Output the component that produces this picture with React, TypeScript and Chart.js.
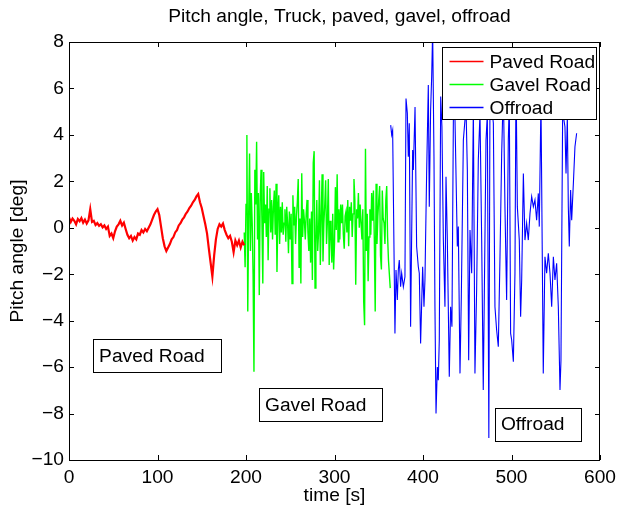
import React, { useEffect, useRef } from "react";
import { Chart, registerables } from "chart.js";

Chart.register(...registerables);

const FONT_FAMILY = "'Liberation Sans', Arial, Helvetica, sans-serif";
const FONT_SIZE = 19.2;

const chartTitle = "Pitch angle, Truck, paved, gavel, offroad";
const xTitle = "time [s]";
const yTitle = "Pitch angle [deg]";

const seriesLabels = ["Paved Road", "Gavel Road", "Offroad"];
const seriesColors = ["#ff0000", "#00ff00", "#0000ff"];

const xTicks = [0, 100, 200, 300, 400, 500, 600];
const yTicks = [-10, -8, -6, -4, -2, 0, 2, 4, 6, 8];

// Paved road: sampled every 2 s starting at 0 s
const pavedStart = 0;
const pavedStep = 2;
const pavedValues = [
  0.45, 0.25, 0.4, 0.3, 0.15, 0.38, 0.28, 0.42, 0.22, 0.35,
  0.18, 0.32, 0.8, 0.25, 0.3, 0.12, 0.2, 0.08, 0.15, 0.02,
  0.1, -0.05, 0.05, -0.35, -0.25, -0.45, -0.15, 0.05, 0.15, 0.3,
  0.1, 0.22, -0.05, -0.3, -0.45, -0.35, -0.55, -0.4, -0.5, -0.25,
  -0.3, -0.1, -0.2, -0.05, -0.15, 0.0, 0.15, 0.35, 0.55, 0.7,
  0.8, 0.55, 0.05, -0.45, -0.8, -1.0, -0.85, -0.7, -0.5, -0.4,
  -0.2, -0.1, 0.1, 0.2, 0.35, 0.45, 0.6, 0.7, 0.85, 0.95,
  1.1, 1.2, 1.35, 1.45, 1.1, 0.85, 0.5, 0.15, -0.25, -0.9,
  -1.5, -2.1, -1.2, -0.5, -0.05, 0.15, 0.05, 0.18, -0.1, -0.3,
  -0.45, -0.35, -0.6, -1.05, -0.55, -0.75, -0.55, -0.85, -0.6, -0.75,
];

// Gravel road: sampled every 1 s starting at 198 s
const gavelStart = 198;
const gavelStep = 1;
const gavelValues = [
  -0.2, -1.7, 1.0, 4.0, -3.6, 0.5, 3.2, -1.0, 1.5, 0.2,
  -2.0, -6.2, 2.5, 1.0, 3.7, -0.5, 1.5, -2.9, 1.2, 2.5,
  0.3, -2.4, 2.4, 0.2, 1.0, -0.4, 1.8, -1.4, 0.8, 1.7,
  -0.2, 1.2, -0.5, 0.9, 1.6, -0.3, 1.9, -1.9, 0.6, 1.4,
  -0.7, 0.9, -0.2, 1.1, -0.3, 0.2, 0.8, -0.6, 0.9, 0.2,
  -1.1, 0.7, -0.5, 0.6, -2.4, 1.4, 0.1, 0.9, -0.7, 0.5,
  1.1, 2.1, -1.7, 0.4, -2.4, 2.35, -0.4, 0.8, 0.3, -0.5,
  0.6, 1.2, -0.2, -1.0, 0.4, -1.5, 0.7, -2.25, 2.8, 3.3,
  -2.6, -0.7, 1.2, -1.0, -0.2, 2.05, -1.6, 0.5, 2.3, -1.45,
  0.2, 1.0, 2.05, -0.7, 0.3, 2.1, -1.6, 0.3, -0.3, -1.5,
  0.6, -1.8, -0.7, 1.75, -0.1, 2.3, -0.6, 0.8, -0.5, 1.0,
  0.2, 1.0, -0.3, -0.9, 0.5, 0.7, -0.2, 1.2, -0.8, 0.9,
  0.3, 1.1, -0.4, 0.6, 2.1, 1.2, -2.45, 0.8, 0.4, 1.5,
  0.0, 1.0, 0.2, -0.5, 0.8, -3.2, -4.2, 3.4, -1.0, 0.6,
  -2.3, -0.4, 0.8, -0.3, 1.5, 0.3, 1.6, -0.5, -3.6, 1.9,
  -0.7, 0.5, 1.2, 1.8, -1.2, -1.8, 1.6, 0.4, 0.2, -0.7,
  1.2, 1.8, -0.4, -1.4, -2.0, -2.6,
];

// Offroad: irregular time stamps (s) and values (deg)
const offroadTimes = [
  363.5, 364.6, 365.7, 368.3, 369.5, 371.0, 372.1, 373.2, 374.7, 375.9,
  377.8, 379.6, 380.8, 382.3, 383.4, 384.5, 386.0, 388.3, 389.1, 391.0,
  392.8, 394.7, 395.8, 397.3, 399.6, 401.1, 402.2, 404.1, 406.0, 407.1,
  408.6, 409.8, 410.9, 412.4, 413.5, 414.7, 416.2, 417.3, 418.4, 420.0,
  421.4, 423.0, 424.8, 426.0, 427.5, 429.7, 431.2, 432.7, 434.3, 436.1,
  438.8, 439.9, 441.8, 443.3, 445.6, 448.6, 450.1, 451.6, 453.1, 455.0,
  456.9, 458.7, 460.6, 462.5, 464.4, 466.3, 468.1, 471.2, 472.7, 474.4,
  475.7, 479.5, 481.3, 483.2, 485.1, 487.0, 488.9, 490.8, 492.6, 494.5,
  496.4, 497.5, 499.0, 500.2, 502.1, 503.9, 505.1, 506.6, 508.8, 510.3,
  511.5, 513.4, 515.2, 517.1, 519.0, 520.9, 522.8, 524.7, 526.5, 528.4,
  530.3, 531.4, 533.3, 535.9, 537.8, 539.7, 541.6, 543.5, 545.4, 547.3,
  549.1, 551.0, 552.9, 554.8, 555.9, 557.8, 560.4, 561.6, 563.1, 564.2,
  565.3, 566.8, 568.0, 569.9, 571.7, 573.6,
];
const offroadValues = [
  4.42, 4.0, 4.2, -4.55, -1.82, -3.11, -1.82, -1.39, -2.54, -1.96,
  -2.54, -2.11, 5.57, 4.93, 3.06, 4.5, -4.26, 3.35, 2.49, 5.2,
  -0.81, -1.68, -1.96, -4.98, -1.68, -3.4, -2.25, 2.34, 6.15, 0.91,
  5.07, 6.5, 8.5, 3.06, -3.4, -8.0, -6.0, -6.56, -4.83, 5.65,
  4.35, -0.53, -3.4, 2.2, -0.53, -6.41, -3.4, -4.26, 4.64, 4.78,
  -0.81, 0.05, -6.27, -2.97, 3.78, 5.2, 2.49, -5.7, -0.1, -1.96,
  5.2, -6.27, -2.68, 2.92, 4.93, -0.53, -6.99, 3.78, 4.9, -9.05,
  6.0, 4.5, -3.4, -4.4, -5.12, -1.25, 3.2, 6.0, 0.91, -3.11,
  3.78, 5.5, -4.55, -4.83, -5.77, -1.96, 6.5, 0.91, -0.53, -3.83,
  -2.25, 2.34, -0.53, 0.19, -0.53, 0.62, 1.34, 0.91, 1.2, 0.33,
  1.48, 0.05, 5.5, -6.27, -1.25, -1.96, -1.1, -1.96, -3.4, -1.25,
  -2.25, -1.53, -3.4, -6.99, -5.7, 5.0, 4.35, 2.34, 4.8, 0.91,
  -0.81, 1.63, 0.33, 1.91, 3.49, 4.07,
];

// Text annotations (data coordinates of the text's left/middle point)
const annotationTexts = ["Paved Road", "Gavel Road", "Offroad"];
const annotationX = [34, 221.5, 488];
const annotationY = [-5.5, -7.61, -8.45];

const fontStr = () => `${FONT_SIZE}px ${FONT_FAMILY}`;

const boxPlugin = {
  id: "matlabBox",
  afterDatasetsDraw(chart: any) {
    const { ctx, chartArea } = chart;
    const xs = chart.scales.x;
    const ys = chart.scales.y;
    const { left, right, top, bottom } = chartArea;
    ctx.save();
    // frame
    ctx.strokeStyle = "#000";
    ctx.lineWidth = 1;
    ctx.strokeRect(Math.round(left) + 0.5, Math.round(top) + 0.5, Math.round(right - left) - 1, Math.round(bottom - top));
    // inward ticks
    const tl = 5;
    ctx.beginPath();
    xTicks.forEach((v) => {
      const px = Math.round(xs.getPixelForValue(v)) + 0.5;
      ctx.moveTo(px, bottom);
      ctx.lineTo(px, bottom - tl);
      ctx.moveTo(px, top);
      ctx.lineTo(px, top + tl);
    });
    yTicks.forEach((v) => {
      const py = Math.round(ys.getPixelForValue(v)) + 0.5;
      ctx.moveTo(left, py);
      ctx.lineTo(left + tl, py);
      ctx.moveTo(right, py);
      ctx.lineTo(right - tl, py);
    });
    ctx.stroke();

    // annotation boxes
    ctx.font = fontStr();
    ctx.textBaseline = "middle";
    ctx.textAlign = "left";
    annotationTexts.forEach((t, i) => {
      const tx = xs.getPixelForValue(annotationX[i]);
      const ty = ys.getPixelForValue(annotationY[i]);
      const w = ctx.measureText(t).width;
      const bx = Math.round(tx - 6) + 0.5;
      const by = Math.round(ty - 16.5) + 0.5;
      const bw = Math.round(w + 22);
      const bh = 33;
      ctx.fillStyle = "#fff";
      ctx.fillRect(bx, by, bw, bh);
      ctx.strokeStyle = "#000";
      ctx.lineWidth = 1;
      ctx.strokeRect(bx, by, bw, bh);
      ctx.fillStyle = "#000";
      ctx.fillText(t, tx, ty + 1);
    });

    // legend
    const lw = 154;
    const lh = 72;
    const lx = Math.round(right - 4 - lw) + 0.5;
    const ly = Math.round(top + 5) + 0.5;
    ctx.fillStyle = "#fff";
    ctx.fillRect(lx, ly, lw, lh);
    ctx.strokeStyle = "#000";
    ctx.lineWidth = 1;
    ctx.strokeRect(lx, ly, lw, lh);
    for (let i = 0; i < seriesLabels.length; i++) {
      const rowY = Math.round(ly + 13 + i * 23);
      ctx.beginPath();
      ctx.strokeStyle = seriesColors[i];
      ctx.lineWidth = 1.3;
      ctx.moveTo(lx + 7, rowY + 0.5);
      ctx.lineTo(lx + 41, rowY + 0.5);
      ctx.stroke();
      ctx.fillStyle = "#000";
      ctx.fillText(seriesLabels[i], lx + 47, rowY + 1.5);
    }

    // title
    ctx.textAlign = "center";
    ctx.fillStyle = "#000";
    ctx.fillText(chartTitle, (left + right) / 2 + 5, 17);
    ctx.restore();
  },
};

export default function App() {
  const canvasRef = useRef<HTMLCanvasElement | null>(null);

  useEffect(() => {
    const canvas = canvasRef.current;
    if (!canvas) return;

    const paved = pavedValues.map((y, i) => ({ x: pavedStart + i * pavedStep, y }));
    const gavel = gavelValues.map((y, i) => ({ x: gavelStart + i * gavelStep, y }));
    const offroad = offroadValues.map((y, i) => ({ x: offroadTimes[i], y }));

    const tickFont = { family: FONT_FAMILY, size: FONT_SIZE };

    const chart = new Chart(canvas, {
      type: "line",
      data: {
        datasets: [
          { label: seriesLabels[0], data: paved, borderColor: seriesColors[0], borderWidth: 2.2, pointRadius: 0, clip: 0 },
          { label: seriesLabels[1], data: gavel, borderColor: seriesColors[1], borderWidth: 1.4, pointRadius: 0, clip: 0 },
          { label: seriesLabels[2], data: offroad, borderColor: seriesColors[2], borderWidth: 1.1, pointRadius: 0, clip: 0 },
        ],
      },
      plugins: [boxPlugin],
      options: {
        responsive: false,
        animation: false,
        events: [],
        layout: { padding: { left: 0, top: 42, right: 20, bottom: 0 } },
        plugins: {
          legend: { display: false },
          title: { display: false },
          tooltip: { enabled: false },
        },
        elements: { line: { tension: 0 } },
        scales: {
          x: {
            type: "linear",
            min: 0,
            max: 600,
            afterBuildTicks: (scale: any) => {
              scale.ticks = xTicks.map((v) => ({ value: v }));
            },
            ticks: {
              font: tickFont,
              color: "#000",
              padding: 6,
              maxRotation: 0,
              autoSkip: false,
            },
            grid: { display: false, drawTicks: false },
            border: { display: false },
            title: {
              display: true,
              text: xTitle,
              color: "#000",
              font: tickFont,
              padding: { top: 0, bottom: 0 },
            },
            afterFit: (scale: any) => {
              scale.height = 47;
              scale.paddingLeft = 0;
              scale.paddingRight = 0;
            },
          },
          y: {
            type: "linear",
            min: -10,
            max: 8,
            afterBuildTicks: (scale: any) => {
              scale.ticks = yTicks.map((v) => ({ value: v }));
            },
            ticks: {
              font: tickFont,
              color: "#000",
              padding: 5,
              autoSkip: false,
              callback: (v: any) => String(v).replace("-", "\u2212"),
            },
            grid: { display: false, drawTicks: false },
            border: { display: false },
            title: {
              display: true,
              text: yTitle,
              color: "#000",
              font: tickFont,
              padding: { top: 6, bottom: 0 },
            },
            afterFit: (scale: any) => {
              scale.width = 69;
              scale.paddingTop = 0;
              scale.paddingBottom = 0;
            },
          },
        },
      },
    });

    return () => chart.destroy();
  }, []);

  return (
    <div style={{ position: "absolute", left: 0, top: 0, width: 620, height: 507, background: "#fff" }}>
      <canvas ref={canvasRef} width={620} height={507} style={{ width: 620, height: 507, display: "block" }} />
    </div>
  );
}
